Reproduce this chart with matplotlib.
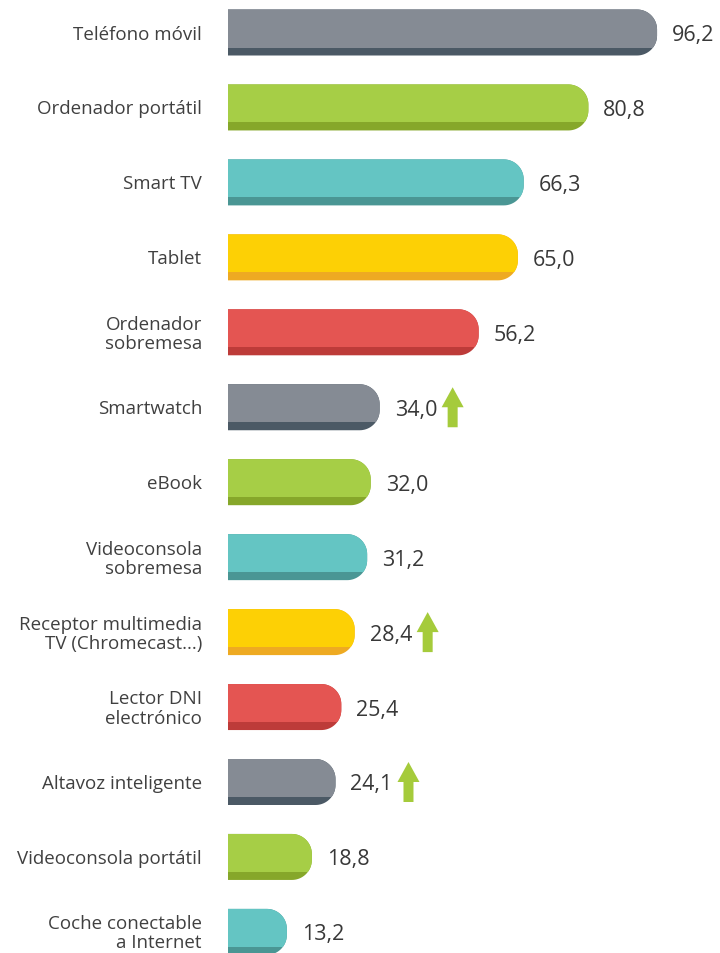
import numpy as np
import matplotlib
matplotlib.use("Agg")
import matplotlib.pyplot as plt
from matplotlib.patches import Polygon

categories = ["Teléfono móvil", "Ordenador portátil", "Smart TV", "Tablet",
              "Ordenador\nsobremesa", "Smartwatch", "eBook",
              "Videoconsola\nsobremesa", "Receptor multimedia\nTV (Chromecast...)",
              "Lector DNI\nelectrónico", "Altavoz inteligente",
              "Videoconsola portátil", "Coche conectable\na Internet"]
values = [96.2, 80.8, 66.3, 65.0, 56.2, 34.0, 32.0, 31.2, 28.4, 25.4, 24.1, 18.8, 13.2]
value_labels = ["96,2", "80,8", "66,3", "65,0", "56,2", "34,0", "32,0", "31,2",
                "28,4", "25,4", "24,1", "18,8", "13,2"]
rising = [False, False, False, False, False, True, False, False, True, False, True, False, False]

light_colors = ["#858b94", "#a6ce46", "#64c5c3", "#fdd005", "#e45552"]
dark_colors = ["#4b5965", "#86a72a", "#4a9694", "#eeaa22", "#bd3b39"]
arrow_color = "#a5cb3b"

plt.rcParams['font.family'] = ['Open Sans', 'DejaVu Sans']

W, H = 720, 954
fig = plt.figure(figsize=(W / 100, H / 100), dpi=100)
ax = fig.add_axes([0, 0, 1, 1])
ax.axis("off")

x0_px = 228.0
px_per_x = 4.46
y0_px = 33.5
px_per_y = 74.95
ax.set_xlim(-x0_px / px_per_x, (W - x0_px) / px_per_x)
ax.set_ylim((H - y0_px) / px_per_y, -y0_px / px_per_y)

def px_x(p):
    return p / px_per_x

def px_y(p):
    return p / px_per_y

bar_h = px_y(46)
stripe = px_y(8)
rx, ry = px_x(20), px_y(20)

def bar_path(v, c):
    top, bot = c - bar_h / 2, c + bar_h / 2
    pts = [(0, top), (v - rx, top)]
    t = np.linspace(-np.pi / 2, 0, 20)
    pts += [(v - rx + rx * np.cos(a), top + ry + ry * np.sin(a)) for a in t]
    t = np.linspace(0, np.pi / 2, 20)
    pts += [(v - rx + rx * np.cos(a), bot - ry + ry * np.sin(a)) for a in t]
    pts += [(0, bot)]
    return pts

for i, (cat, v, lab, up) in enumerate(zip(categories, values, value_labels, rising)):
    c = i
    lc = light_colors[i % 5]
    dc = dark_colors[i % 5]
    pts = bar_path(v, c)
    ax.add_patch(Polygon(pts, closed=True, facecolor=dc, edgecolor="none"))
    top_part = Polygon(pts, closed=True, facecolor=lc, edgecolor="none")
    ax.add_patch(top_part)
    clip = plt.Rectangle((-1, c - bar_h / 2 - 0.1), v + 5, bar_h + 0.1 - stripe,
                         transform=ax.transData)
    top_part.set_clip_path(clip)

    ax.text(px_x(-26), c + px_y(1), cat, ha="right", va="center", fontsize=13.5,
            color="#404040", linespacing=1.08)
    ax.text(v + px_x(15), c + px_y(2), lab, ha="left", va="center", fontsize=15.5,
            color="#383838")

    if up:
        ax0 = v + px_x(62)
        w_head, w_shaft = px_x(22), px_x(10)
        h_tot, h_head = px_y(40), px_y(20)
        tip = c - h_tot / 2
        base = c + h_tot / 2
        cx = ax0 + w_head / 2
        arrow = [(cx, tip), (ax0 + w_head, tip + h_head), (cx + w_shaft / 2, tip + h_head),
                 (cx + w_shaft / 2, base), (cx - w_shaft / 2, base),
                 (cx - w_shaft / 2, tip + h_head), (ax0, tip + h_head)]
        ax.add_patch(Polygon(arrow, closed=True, facecolor=arrow_color, edgecolor="none"))

fig.savefig("out.png", dpi=100, facecolor="white")
